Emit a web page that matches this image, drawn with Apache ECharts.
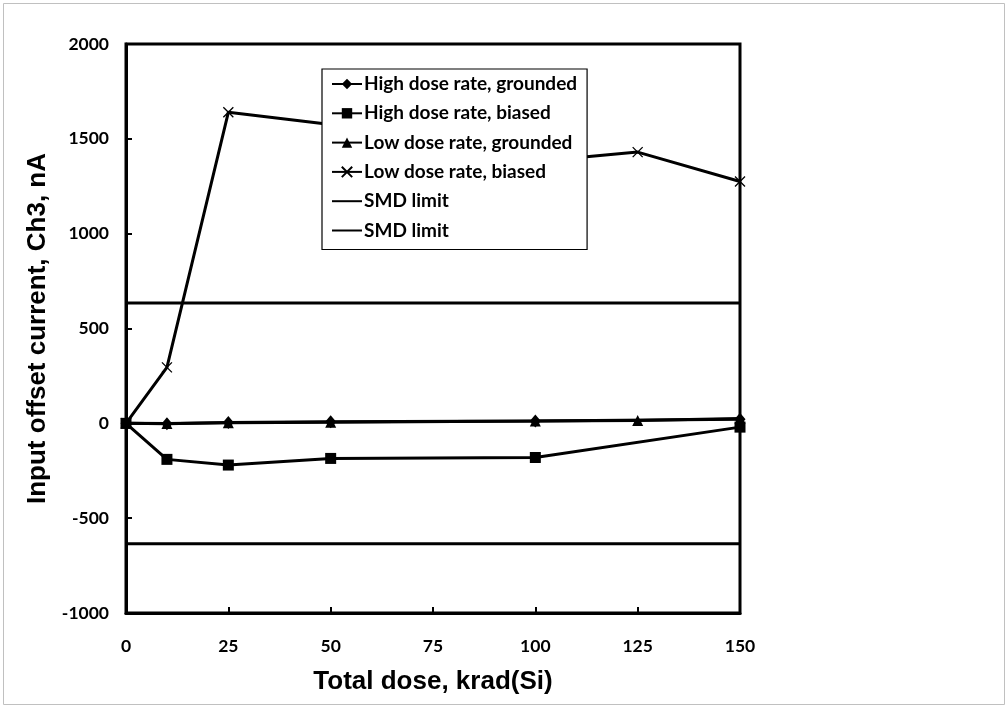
<!DOCTYPE html>
<html><head><meta charset="utf-8">
<script src="https://cdn.jsdelivr.net/npm/echarts@6/dist/echarts.min.js"></script>
<style>html,body{margin:0;padding:0;background:#fff}#c{width:1008px;height:708px}</style>
</head><body><div id="c"></div>
<script>
var xTicks = [0, 25, 50, 75, 100, 125, 150];
var hdrGroundedX = [0, 10, 25, 50, 100, 150];
var hdrGroundedY = [0, -2, 4, 8, 12, 22];
var hdrBiasedX = [0, 10, 25, 50, 100, 150];
var hdrBiasedY = [0, -190, -220, -185, -180, -20];
var ldrGroundedX = [0, 10, 25, 50, 100, 125, 150];
var ldrGroundedY = [0, -1, 3, 6, 12, 15, 25];
var ldrBiasedX = [0, 10, 25, 50, 100, 125, 150];
var ldrBiasedY = [0, 295, 1640, 1575, 1380, 1430, 1275];
var smdLimitX = [0, 150];
var smdUpperY = [635, 635];
var smdLowerY = [-635, -635];

function pairs(xs, ys){ return xs.map(function(x,i){ return [x, ys[i]]; }); }

var chart = echarts.init(document.getElementById('c'));
var lbl = {fontFamily:'Lato', fontWeight:'bold', fontSize:17.5, color:'#000'};
var lineW = 3;
function ser(name, xs, ys, symbol, size, extra){
  var s = {name:name, type:'line', data:pairs(xs,ys), symbol:symbol, symbolSize:size,
    showSymbol: symbol!=='none', lineStyle:{color:'#000', width:lineW}, itemStyle:{color:'#000'},
    animation:false, z:3};
  if (extra) for (var k in extra) s[k]=extra[k];
  return s;
}
var crossPath = 'path://M0,0L10,10M10,0L0,10';
chart.setOption({
  animation:false,
  backgroundColor:'#fff',
  graphic:[{type:'rect', shape:{x:3.5,y:3.5,width:1001,height:701}, style:{fill:'none', stroke:'#c0c0c0', lineWidth:1}, z:-1}],
  grid:{left:126, right:268, top:44, bottom:95, show:true, borderColor:'#000', borderWidth:3, backgroundColor:'transparent'},
  legend:{
    orient:'vertical', left:322, top:69,
    backgroundColor:'#fff', borderColor:'#000', borderWidth:1.2,
    padding:[5,10,9,9], itemGap:9.3, itemWidth:30, itemHeight:13,
    textStyle:{fontFamily:'Lato', fontWeight:'bold', fontSize:19, lineHeight:20, color:'#000', padding:[0,0,0,-3]},
    data:['High dose rate, grounded','High dose rate, biased','Low dose rate, grounded','Low dose rate, biased',
      {name:'SMD limit', itemStyle:{opacity:0}}, {name:'SMD limit ', itemStyle:{opacity:0}}]
  },
  xAxis:{
    type:'value', min:0, max:150, interval:25,
    name:'Total dose, krad(Si)', nameLocation:'middle', nameGap:56,
    nameTextStyle:{fontFamily:'Liberation Sans', fontWeight:'bold', fontSize:26, color:'#000'},
    axisLine:{show:true, onZero:false, lineStyle:{color:'#000', width:3}},
    axisTick:{show:true, inside:true, length:6, lineStyle:{color:'#000', width:2}},
    axisLabel:Object.assign({margin:24}, lbl),
    splitLine:{show:false}
  },
  yAxis:{
    type:'value', min:-1000, max:2000, interval:500,
    name:'Input offset current, Ch3, nA', nameLocation:'middle', nameGap:70,
    nameTextStyle:{fontFamily:'Liberation Sans', fontWeight:'bold', fontSize:26, color:'#000'},
    axisLine:{show:true, onZero:false, lineStyle:{color:'#000', width:3}},
    axisTick:{show:true, inside:true, length:6, lineStyle:{color:'#000', width:2}},
    axisLabel:Object.assign({margin:17, formatter:function(v){return String(v);}}, lbl),
    splitLine:{show:false}
  },
  series:[
    ser('High dose rate, grounded', hdrGroundedX, hdrGroundedY, 'diamond', [11,13]),
    ser('High dose rate, biased', hdrBiasedX, hdrBiasedY, 'rect', 11),
    ser('Low dose rate, grounded', ldrGroundedX, ldrGroundedY, 'triangle', 11),
    ser('Low dose rate, biased', ldrBiasedX, ldrBiasedY, crossPath, 10, {itemStyle:{color:'#000', borderColor:'#000', borderWidth:1.3}}),
    ser('SMD limit', smdLimitX, smdUpperY, 'none', 0, {lineStyle:{color:'#000', width:3}, z:2}),
    ser('SMD limit ', smdLimitX, smdLowerY, 'none', 0, {lineStyle:{color:'#000', width:3}, z:2})
  ]
});
</script></body></html>
